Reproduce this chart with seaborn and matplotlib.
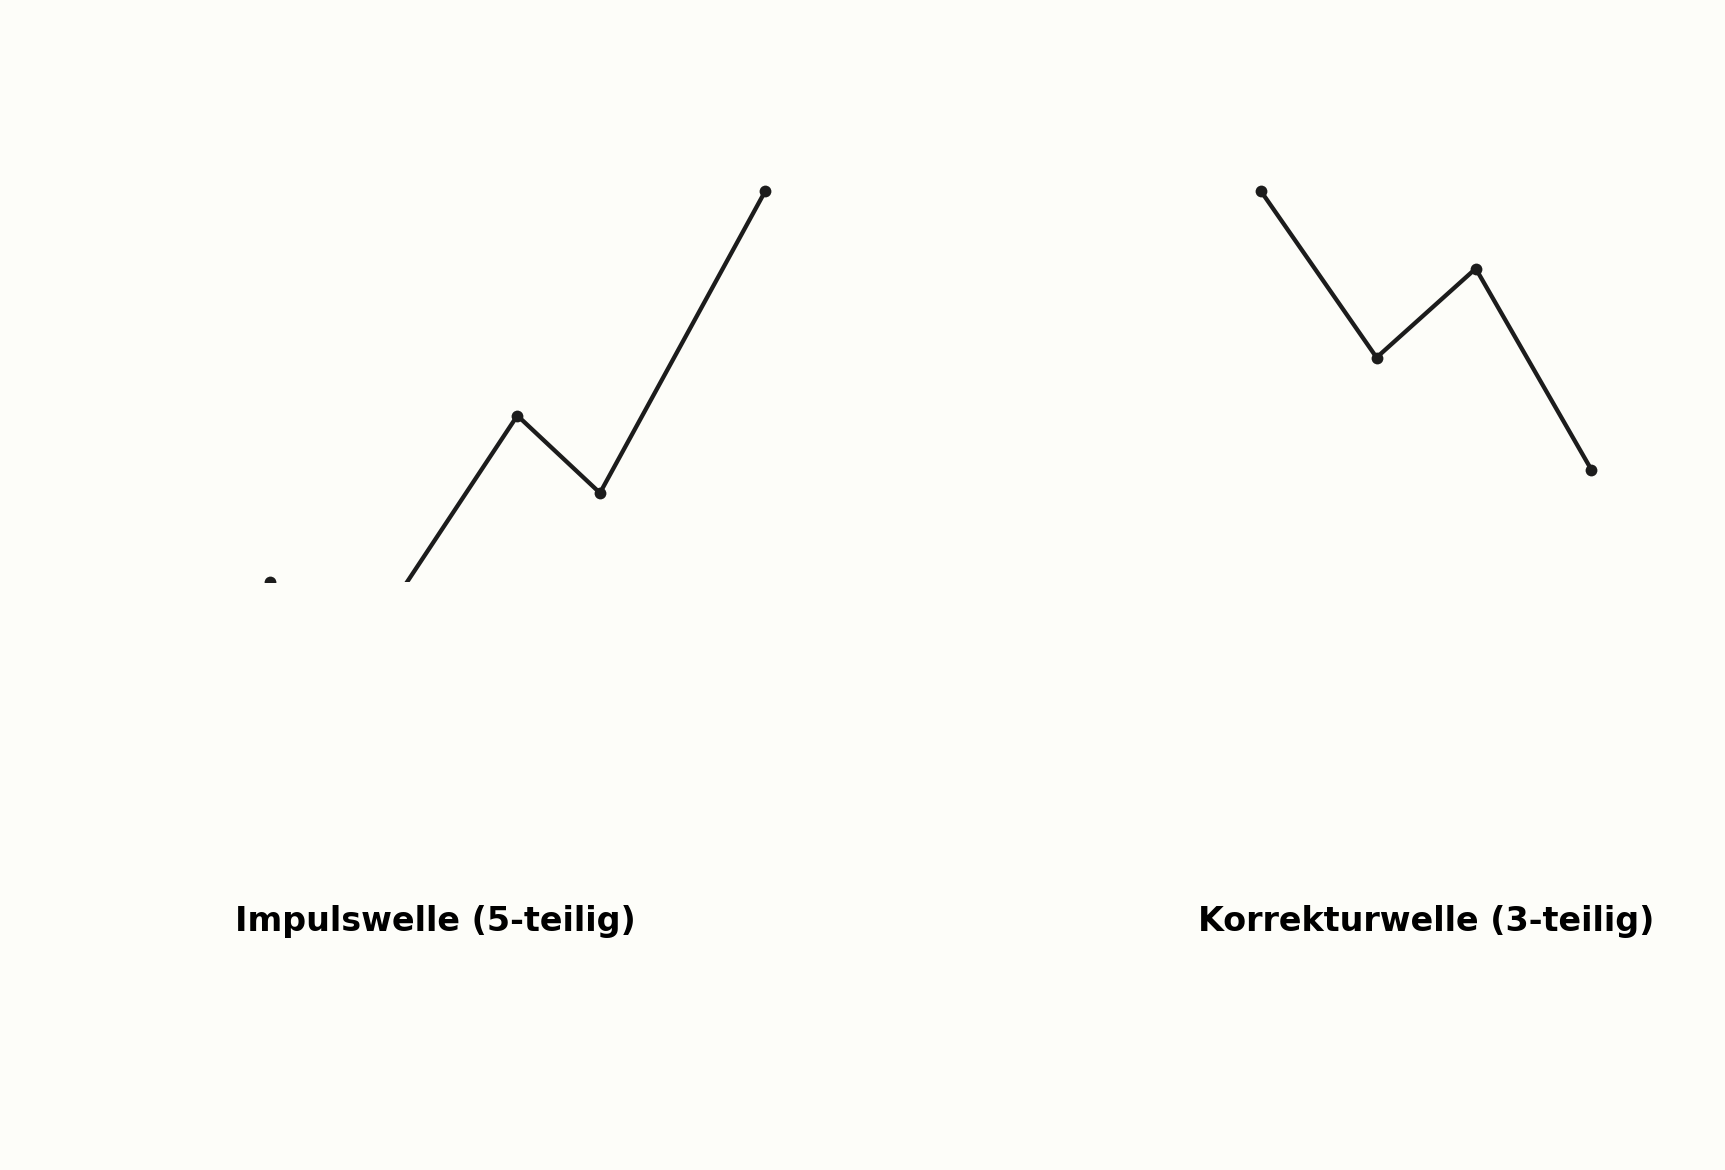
import matplotlib
matplotlib.use("Agg")
import matplotlib.pyplot as plt
import pandas as pd
import seaborn as sns

# wave points (step, level)
impulse_x = [0, 0.6, 1.2, 3, 4, 6]
impulse_y = [0, -1.8, -1.5, 4.3, 2.3, 10.1]
korrektur_x = [12, 13.4, 14.6, 16]
korrektur_y = [10.1, 5.8, 8.1, 2.9]
labels = ["Impulswelle (5-teilig)", "Korrekturwelle (3-teilig)"]

bg = "#fdfdf9"
ink = "#1c1c1c"

sns.set_style("white")
plt.rcParams["font.family"] = ["DejaVu Sans"]

fig = plt.figure(figsize=(17.25, 11.7), dpi=100)
fig.patch.set_facecolor(bg)
ax = fig.add_axes([0, 0.5026, 1, 0.4974])
ax.set_facecolor(bg)

df_imp = pd.DataFrame({"x": impulse_x, "y": impulse_y})
df_kor = pd.DataFrame({"x": korrektur_x, "y": korrektur_y})
for d in (df_imp, df_kor):
    sns.lineplot(data=d, x="x", y="y", ax=ax, color=ink, linewidth=3.1,
                 marker="o", markersize=8.5, markeredgecolor=ink,
                 markeredgewidth=0, sort=False)

ax.set_xlim(-3.262, 17.617)
ax.set_ylim(0, 15.04)
ax.set_axis_off()

fig.text(0.2526, 0.2125, labels[0], ha="center", va="center",
         fontsize=24, fontweight="bold", color="black")
fig.text(0.8265, 0.2125, labels[1], ha="center", va="center",
         fontsize=24, fontweight="bold", color="black")

fig.savefig("out.png", dpi=100, facecolor=bg)
